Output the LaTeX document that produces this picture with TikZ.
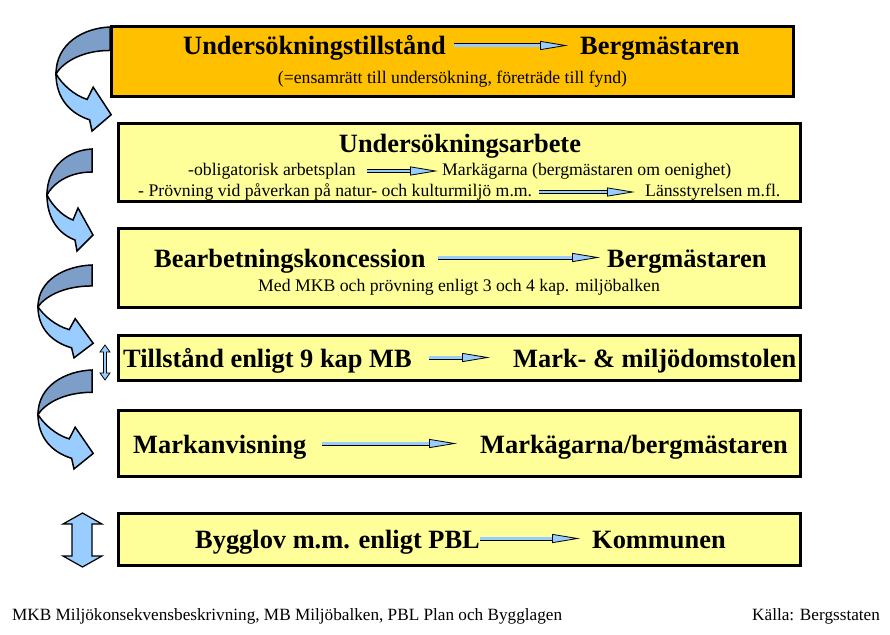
\documentclass[tikz,border=0pt]{standalone}
\usepackage{fontspec}
\setmainfont{Liberation Serif}
\usetikzlibrary{arrows.meta}
\definecolor{gold}{RGB}{255,192,0}
\definecolor{paleyellow}{RGB}{255,255,153}
\definecolor{arrowblue}{RGB}{153,204,255}
\definecolor{curldark}{RGB}{125,158,200}
\tikzset{
  stage/.style={draw, line width=3pt, fill=paleyellow, minimum width=682pt, inner sep=0pt},
  stagetitle/.style={font=\bfseries\fontsize{26.4}{30}\selectfont, inner sep=4pt, text height=19pt, text depth=0pt, anchor=base west},
  stagenote/.style={font=\fontsize{17.7}{20}\selectfont, inner sep=4pt, text height=8pt, text depth=0pt, anchor=base west},
  flow/.style={double=arrowblue, double distance=2.4pt, line width=0.8pt,
    -{Triangle[length=28pt, width=9pt, fill=arrowblue, line width=0.8pt]}},
  pics/curl/.style={code={
    \filldraw[fill=curldark, line width=1.5pt] (0,0) .. controls (-22,1) and (-45,16) .. (-45,46)
      .. controls (-40,36) and (-25,23) .. (0,23) -- cycle;
    \filldraw[fill=arrowblue, line width=1.5pt] (-45,46) .. controls (-40,56) and (-30,67) .. (-19,71)
      -- (-14,59) -- (1,86) -- (-15,102) -- (-17,91) .. controls (-33,85) and (-45,70) .. (-45,46) -- cycle;
  }}
}
\begin{document}
\begin{tikzpicture}[x=1pt, y=-1pt]
  \useasboundingbox (0,0) rectangle (890,634);

  % the six stages
  \node[stage, fill=gold, minimum height=70pt] (s1) at (452.5,61.5) {};
  \node[stage, minimum height=78pt] (s2) at (459.5,162.5) {};
  \node[stage, minimum height=79pt] (s3) at (459.5,268) {};
  \node[stage, minimum height=45pt] (s4) at (459.5,358) {};
  \node[stage, minimum height=66pt] (s5) at (459.5,443.5) {};
  \node[stage, minimum height=52pt] (s6) at (459.5,539.5) {};

  % stage 1
  \node[stagetitle] (tillstand) at (179,55) {Undersökningstillstånd};
  \node[stagetitle] (bm1) at (576,55) {Bergmästaren};
  \draw[flow, shorten <=4pt, shorten >=8pt] (tillstand) -- (bm1);
  \node[stagenote, anchor=base] (ensam) at (452.5,83) {(=ensamrätt till undersökning, företräde till fynd)};

  % stage 2
  \node[stagetitle, anchor=base] (arbete) at (460,152) {Undersökningsarbete};
  \node[stagenote] (plan) at (184,175) {-obligatorisk arbetsplan};
  \node[stagenote] (markag) at (438,175) {Markägarna (bergmästaren om oenighet)};
  \draw[flow, shorten <=7pt] (plan) -- (markag);
  \node[stagenote] (provning) at (134,196) {- Prövning vid påverkan på natur- och kulturmiljö m.m.};
  \node[stagenote] (lans) at (641,196) {Länsstyrelsen m.fl.};
  \draw[flow, shorten <=3pt, shorten >=6pt] (provning) -- (lans);

  % stage 3
  \node[stagetitle] (koncession) at (150,267) {Bearbetningskoncession};
  \node[stagetitle] (bm3) at (603,267) {Bergmästaren};
  \draw[flow, shorten <=8pt, shorten >=3pt] (koncession) -- (bm3);
  \node[stagenote, anchor=base] (mkb) at (459,291) {Med MKB och prövning enligt 3 och 4 kap. miljöbalken};

  % stage 4
  \node[stagetitle] (kap9) at (119,367) {Tillstånd enligt 9 kap MB};
  \node[stagetitle] (domstol) at (509,367) {Mark- \& miljödomstolen};
  \draw[flow, shorten <=13pt, shorten >=19pt] (kap9) -- (domstol);

  % stage 5
  \node[stagetitle] (anvisning) at (129,453) {Markanvisning};
  \node[stagetitle] (markbm) at (476,453) {Markägarna/bergmästaren};
  \draw[flow, shorten <=11pt, shorten >=19pt] (anvisning) -- (markbm);

  % stage 6
  \node[stagetitle] (bygglov) at (191,548) {Bygglov m.m. enligt PBL};
  \node[stagetitle] (kommun) at (588,548) {Kommunen};
  \draw[flow, shorten <=-4pt, shorten >=8pt] (bygglov) -- (kommun);

  % curled arrows on the left
  \pic[xscale=1.2, yscale=1.02] at (110,27) {curl};
  \pic at (92,149) {curl};
  \pic[xscale=1.2, yscale=0.91] at (92,265) {curl};
  \pic[xscale=1.2, yscale=0.97] at (92,370) {curl};

  % double arrows
  \filldraw[fill=arrowblue, line width=0.8pt] (105,345) -- (110,352) -- (106.5,352) -- (106.5,373) -- (110,373)
    -- (105,380) -- (100,373) -- (103.5,373) -- (103.5,352) -- (100,352) -- cycle;
  \filldraw[fill=arrowblue, line width=1.2pt] (82.5,513) -- (102,524) -- (92,524) -- (92,556) -- (102,556)
    -- (82.5,567) -- (63,556) -- (72,556) -- (72,524) -- (63,524) -- cycle;

  % footer
  \node[font=\fontsize{17.2}{19}\selectfont, anchor=base west, inner sep=0pt] (forklaring) at (12,620)
    {MKB Miljökonsekvensbeskrivning, MB Miljöbalken, PBL Plan och Bygglagen};
  \node[font=\fontsize{17.2}{19}\selectfont, anchor=base west, inner sep=0pt] (kalla) at (752,620) {Källa: Bergsstaten};
\end{tikzpicture}
\end{document}
